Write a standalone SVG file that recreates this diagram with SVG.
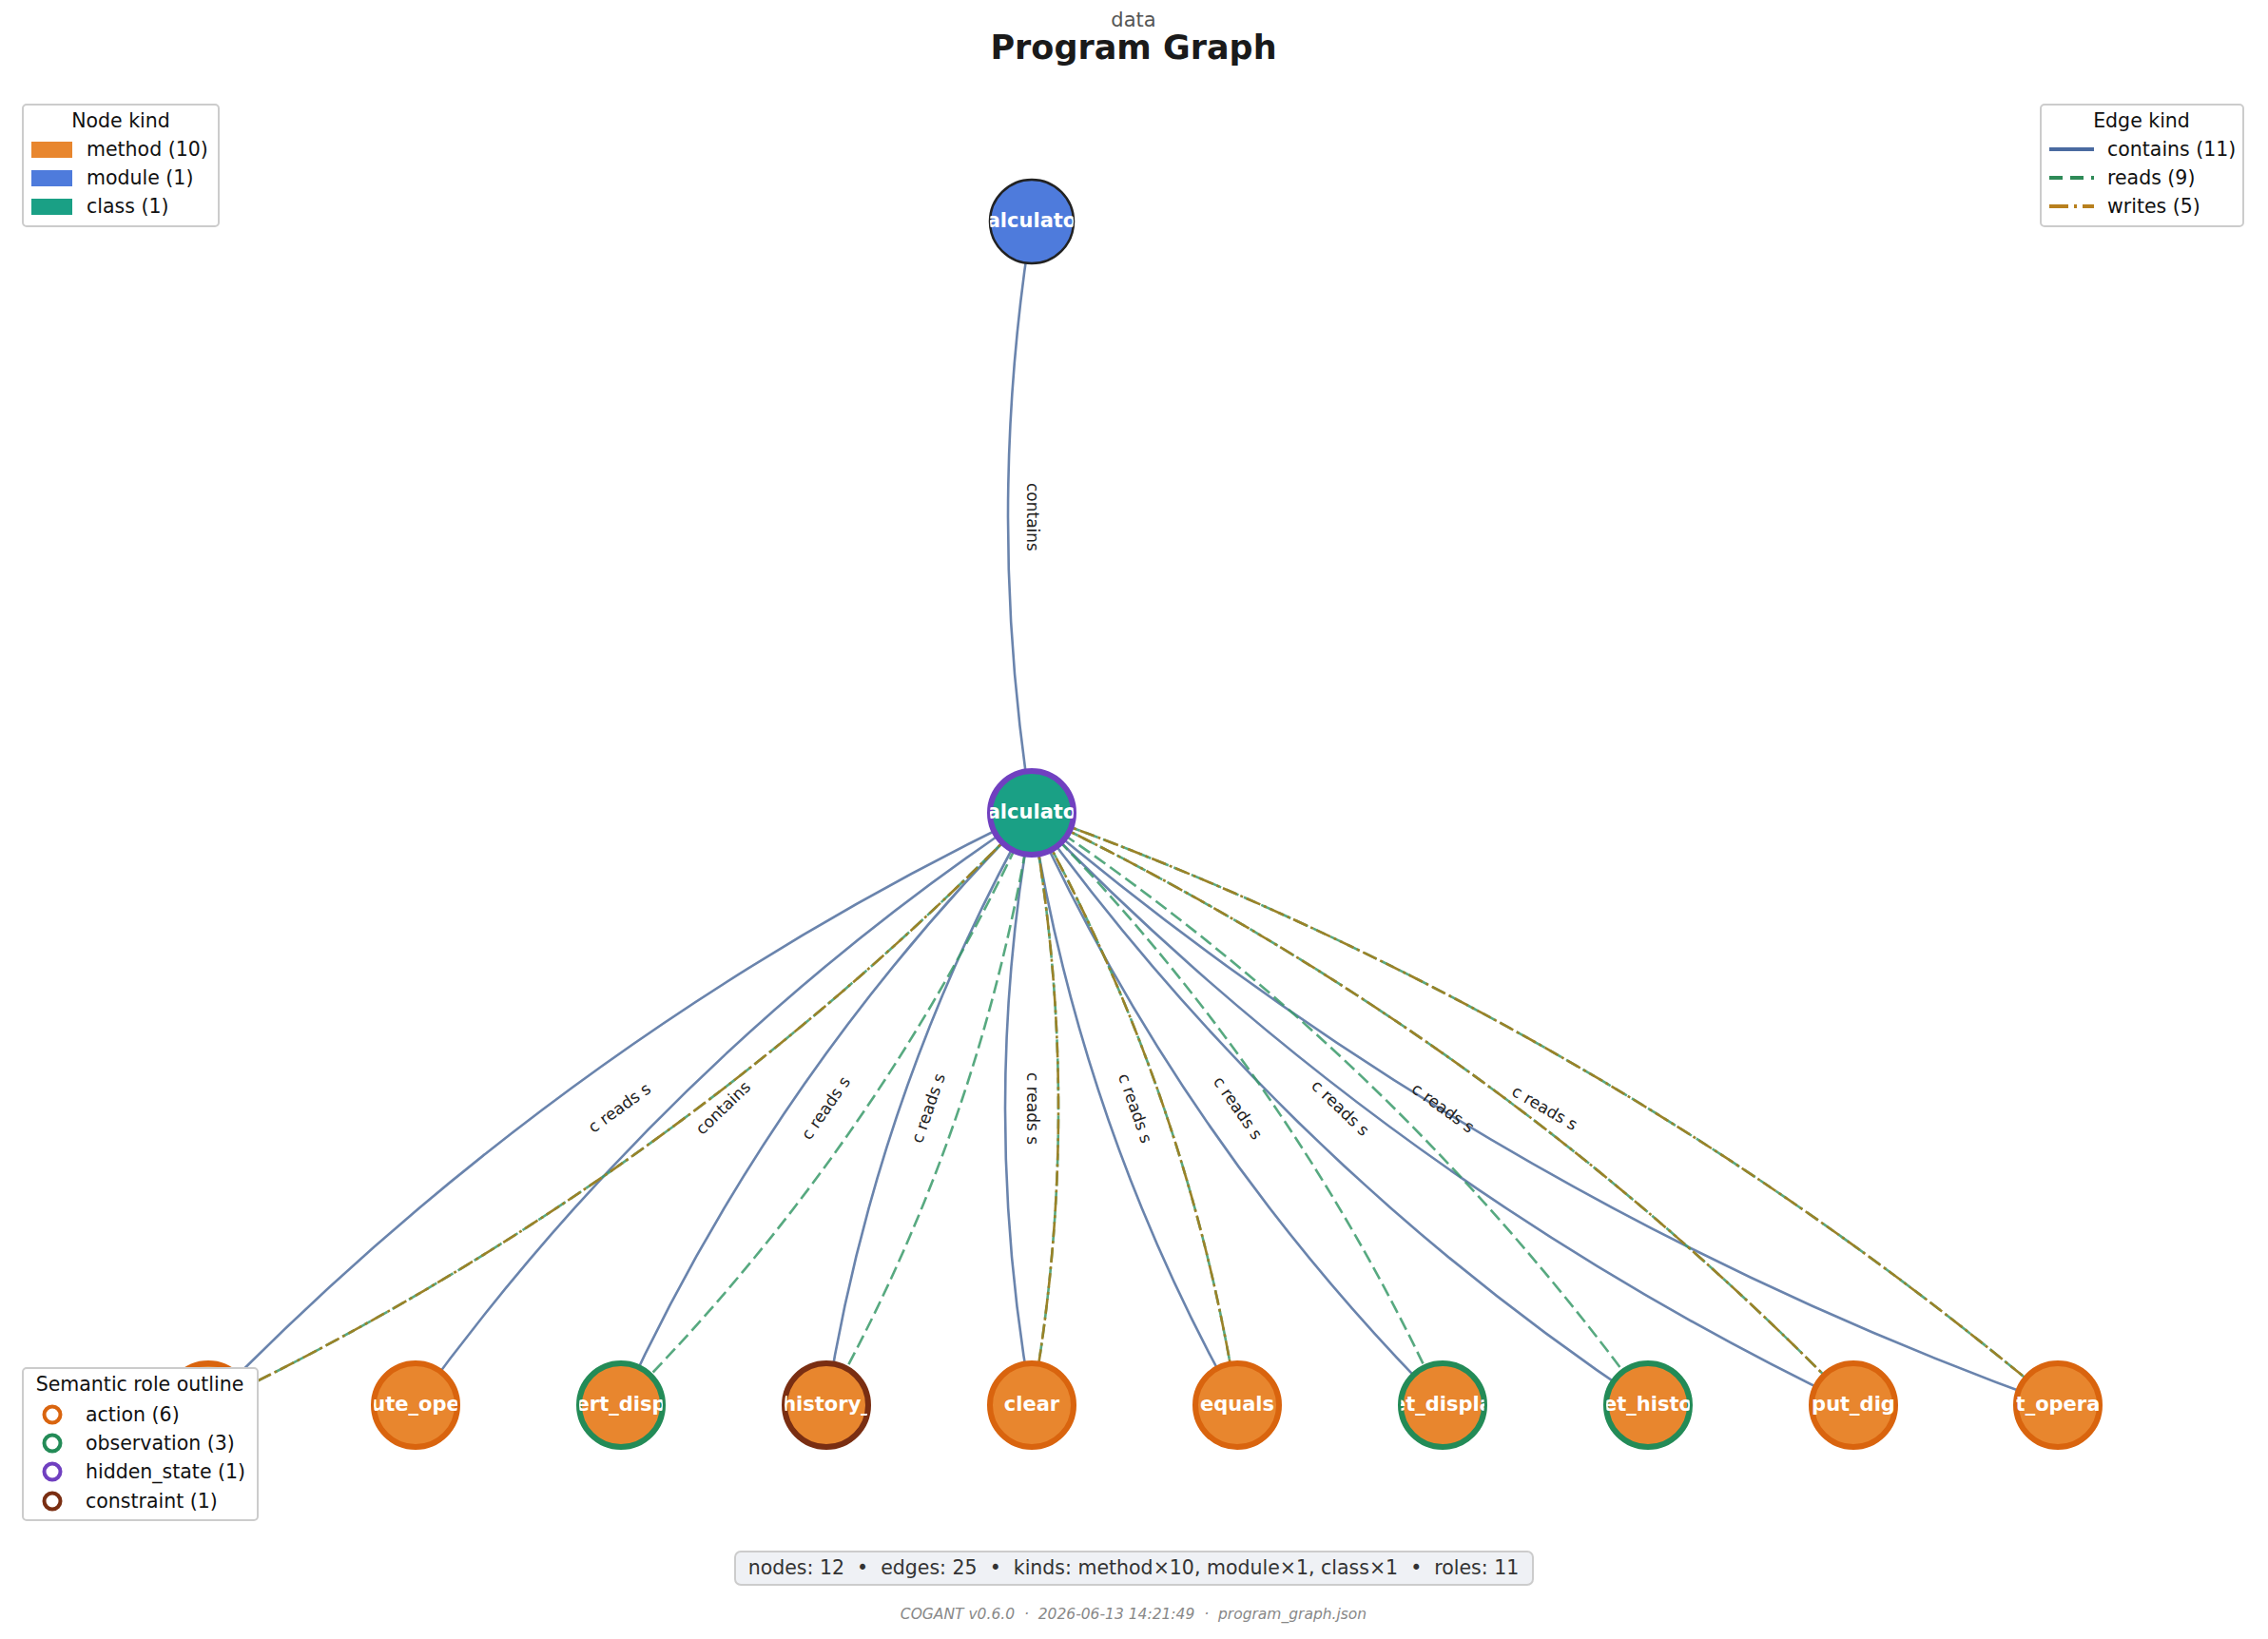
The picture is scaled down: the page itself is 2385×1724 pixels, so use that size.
<svg xmlns="http://www.w3.org/2000/svg" width="2385" height="1724" viewBox="0 0 2385 1724">
<style>
text{font-family:"DejaVu Sans","Liberation Sans",sans-serif}
.c{fill:none;stroke:#6a84ad;stroke-width:2.6}
.r{fill:none;stroke:#3a9a6a;stroke-width:2.6;stroke-dasharray:14 6;opacity:.85}
.w{fill:none;stroke:#9a8228;stroke-width:2.6;stroke-dasharray:16 4 3 4}
.el{font-size:17px;fill:#222;text-anchor:middle;dominant-baseline:middle}
.m{fill:#e8862e;stroke-width:6}
.nl{font-size:21px;font-weight:bold;fill:#fff;text-anchor:middle;dominant-baseline:middle}
.lg{fill:#fff;stroke:#ccc;stroke-width:2}
.lt{font-size:20.5px;fill:#111}
</style>
<defs>
<clipPath id="k0"><circle cx="1085" cy="233" r="44"/></clipPath>
<clipPath id="k1"><circle cx="1085" cy="855" r="44"/></clipPath>
<clipPath id="k2"><circle cx="437" cy="1478" r="44"/></clipPath>
<clipPath id="k3"><circle cx="653" cy="1478" r="44"/></clipPath>
<clipPath id="k4"><circle cx="869" cy="1478" r="44"/></clipPath>
<clipPath id="k5"><circle cx="1085" cy="1478" r="44"/></clipPath>
<clipPath id="k6"><circle cx="1301" cy="1478" r="44"/></clipPath>
<clipPath id="k7"><circle cx="1517" cy="1478" r="44"/></clipPath>
<clipPath id="k8"><circle cx="1733" cy="1478" r="44"/></clipPath>
<clipPath id="k9"><circle cx="1949" cy="1478" r="44"/></clipPath>
<clipPath id="k10"><circle cx="2164" cy="1478" r="44"/></clipPath>
</defs>
<rect width="2385" height="1724" fill="#fff"/>
<text x="1192" y="22" font-size="21" fill="#555" text-anchor="middle" dominant-baseline="middle">data</text>
<text x="1192" y="52" font-size="35" font-weight="bold" fill="#1a1a1a" text-anchor="middle" dominant-baseline="middle">Program Graph</text>
<g id="edges">
<path class="c" d="M1085,233 Q1035,544 1085,855"/>
<path class="c" d="M1085,855 Q596,1089 219,1478"/>
<path class="c" d="M1085,855 Q705,1108 437,1478"/>
<path class="c" d="M1085,855 Q813,1128 653,1478"/>
<path class="c" d="M1085,855 Q921,1147 869,1478"/>
<path class="c" d="M1085,855 Q1029,1166 1085,1478"/>
<path class="c" d="M1085,855 Q1137,1186 1301,1478"/>
<path class="c" d="M1085,855 Q1245,1205 1517,1478"/>
<path class="c" d="M1085,855 Q1353,1225 1733,1478"/>
<path class="c" d="M1085,855 Q1461,1244 1949,1478"/>
<path class="c" d="M1085,855 Q1568,1264 2164,1478"/>
<path class="r" d="M1085,855 Q708,1244 219,1478"/>
<path class="r" d="M1085,855 Q925,1205 653,1478"/>
<path class="r" d="M1085,855 Q1033,1186 869,1478"/>
<path class="r" d="M1085,855 Q1141,1166 1085,1478"/>
<path class="r" d="M1085,855 Q1249,1147 1301,1478"/>
<path class="r" d="M1085,855 Q1357,1128 1517,1478"/>
<path class="r" d="M1085,855 Q1465,1108 1733,1478"/>
<path class="r" d="M1085,855 Q1573,1089 1949,1478"/>
<path class="r" d="M1085,855 Q1680,1069 2164,1478"/>
<path class="w" d="M1085,855 Q708,1244 219,1478"/>
<path class="w" d="M1085,855 Q1141,1166 1085,1478"/>
<path class="w" d="M1085,855 Q1249,1147 1301,1478"/>
<path class="w" d="M1085,855 Q1573,1089 1949,1478"/>
<path class="w" d="M1085,855 Q1680,1069 2164,1478"/>
<text class="el" transform="translate(1085,544) rotate(90)">contains</text>
<text class="el" transform="translate(652,1166) rotate(-35.8)">c reads s</text>
<text class="el" transform="translate(761,1166) rotate(-43.9)">contains</text>
<text class="el" transform="translate(869,1166) rotate(-55.3)">c reads s</text>
<text class="el" transform="translate(977,1166) rotate(-70.9)">c reads s</text>
<text class="el" transform="translate(1085,1166) rotate(90)">c reads s</text>
<text class="el" transform="translate(1193,1166) rotate(70.9)">c reads s</text>
<text class="el" transform="translate(1301,1166) rotate(55.3)">c reads s</text>
<text class="el" transform="translate(1409,1166) rotate(43.9)">c reads s</text>
<text class="el" transform="translate(1517,1166) rotate(35.8)">c reads s</text>
<text class="el" transform="translate(1624,1166) rotate(30)">c reads s</text>
</g>
<g id="n_module"><circle cx="1085" cy="233" r="44" fill="#4e7bdc" stroke="#222" stroke-width="2.5"/><text class="nl" x="1085" y="233" clip-path="url(#k0)">alculato</text></g>
<g id="n_class"><circle cx="1085" cy="855" r="44" fill="#1aa085" stroke="#7040c0" stroke-width="6"/><text class="nl" x="1085" y="855" clip-path="url(#k1)">alculato</text></g>
<g id="n1"><circle class="m" cx="219" cy="1478" r="44" stroke="#d9640e"/></g>
<g id="n2"><circle class="m" cx="437" cy="1478" r="44" stroke="#d9640e"/><text class="nl" x="437" y="1478" clip-path="url(#k2)">ute_ope</text></g>
<g id="n3"><circle class="m" cx="653" cy="1478" r="44" stroke="#238b57"/><text class="nl" x="653" y="1478" clip-path="url(#k3)">ert_disp</text></g>
<g id="n4"><circle class="m" cx="869" cy="1478" r="44" stroke="#7a2e12"/><text class="nl" x="869" y="1478" clip-path="url(#k4)">history_</text></g>
<g id="n5"><circle class="m" cx="1085" cy="1478" r="44" stroke="#d9640e"/><text class="nl" x="1085" y="1478" clip-path="url(#k5)">clear</text></g>
<g id="n6"><circle class="m" cx="1301" cy="1478" r="44" stroke="#d9640e"/><text class="nl" x="1301" y="1478" clip-path="url(#k6)">equals</text></g>
<g id="n7"><circle class="m" cx="1517" cy="1478" r="44" stroke="#238b57"/><text class="nl" x="1517" y="1478" clip-path="url(#k7)">et_displa</text></g>
<g id="n8"><circle class="m" cx="1733" cy="1478" r="44" stroke="#238b57"/><text class="nl" x="1733" y="1478" clip-path="url(#k8)">et_histo</text></g>
<g id="n9"><circle class="m" cx="1949" cy="1478" r="44" stroke="#d9640e"/><text class="nl" x="1949" y="1478" clip-path="url(#k9)">put_dig</text></g>
<g id="n10"><circle class="m" cx="2164" cy="1478" r="44" stroke="#d9640e"/><text class="nl" x="2164" y="1478" clip-path="url(#k10)">t_opera</text></g>
<g id="legend_node">
<rect class="lg" x="24" y="110" width="206" height="128" rx="4"/>
<text class="lt" x="127" y="128" text-anchor="middle" dominant-baseline="middle">Node kind</text>
<rect x="33" y="149" width="43" height="17" fill="#e8862e"/><text class="lt" x="91" y="158" dominant-baseline="middle">method (10)</text>
<rect x="33" y="179" width="43" height="17" fill="#4e7bdc"/><text class="lt" x="91" y="188" dominant-baseline="middle">module (1)</text>
<rect x="33" y="209" width="43" height="17" fill="#1aa085"/><text class="lt" x="91" y="218" dominant-baseline="middle">class (1)</text>
</g>
<g id="legend_edge">
<rect class="lg" x="2146" y="110" width="213" height="128" rx="4"/>
<text class="lt" x="2252" y="128" text-anchor="middle" dominant-baseline="middle">Edge kind</text>
<line x1="2155" y1="157" x2="2202" y2="157" stroke="#4a6aa0" stroke-width="4"/><text class="lt" x="2216" y="158" dominant-baseline="middle">contains (11)</text>
<line x1="2155" y1="187" x2="2202" y2="187" stroke="#2e8a57" stroke-width="4" stroke-dasharray="14 8"/><text class="lt" x="2216" y="188" dominant-baseline="middle">reads (9)</text>
<line x1="2155" y1="217" x2="2202" y2="217" stroke="#b8801e" stroke-width="4" stroke-dasharray="20 6 3 6"/><text class="lt" x="2216" y="218" dominant-baseline="middle">writes (5)</text>
</g>
<g id="legend_role">
<rect class="lg" x="24" y="1439" width="247" height="160" rx="4"/>
<text class="lt" x="147" y="1457" text-anchor="middle" dominant-baseline="middle">Semantic role outline</text>
<circle cx="55" cy="1488" r="8.5" fill="#fff" stroke="#d9640e" stroke-width="4"/><text class="lt" x="90" y="1489" dominant-baseline="middle">action (6)</text>
<circle cx="55" cy="1518" r="8.5" fill="#fff" stroke="#238b57" stroke-width="4"/><text class="lt" x="90" y="1519" dominant-baseline="middle">observation (3)</text>
<circle cx="55" cy="1548" r="8.5" fill="#fff" stroke="#7040c0" stroke-width="4"/><text class="lt" x="90" y="1549" dominant-baseline="middle">hidden_state (1)</text>
<circle cx="55" cy="1579" r="8.5" fill="#fff" stroke="#7a2e12" stroke-width="4"/><text class="lt" x="90" y="1580" dominant-baseline="middle">constraint (1)</text>
</g>
<g id="stats">
<rect x="773" y="1632" width="839" height="35" rx="6" fill="#eff1f5" stroke="#ccc" stroke-width="2"/>
<text x="1192" y="1650" font-size="20.5" fill="#333" text-anchor="middle" dominant-baseline="middle" xml:space="preserve">nodes: 12  •  edges: 25  •  kinds: method×10, module×1, class×1  •  roles: 11</text>
<text x="1192" y="1698" font-size="15.5" font-style="italic" fill="#888" text-anchor="middle" dominant-baseline="middle" xml:space="preserve">COGANT v0.6.0  ·  2026-06-13 14:21:49  ·  program_graph.json</text>
</g>
</svg>
